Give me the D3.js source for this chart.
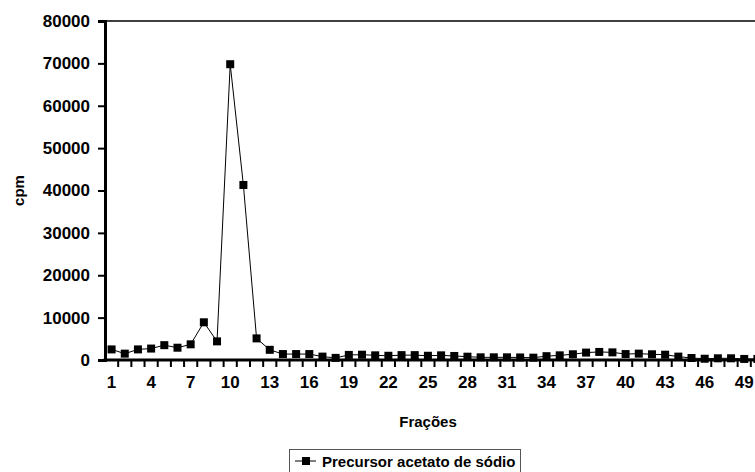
<!DOCTYPE html>
<html>
<head>
<meta charset="utf-8">
<script src="https://cdn.jsdelivr.net/npm/d3@7"></script>
<style>
  body { margin: 0; background: #fff; }
  svg { display: block; font-family: "Liberation Sans", Arial, sans-serif; font-weight: bold; }
</style>
</head>
<body>
<div id="chart"></div>
<script>
// Fractions (x categories) and measured cpm
const fractions = [1, 2, 3, 4, 5, 6, 7, 8, 9, 10, 11, 12, 13, 14, 15, 16, 17, 18, 19, 20,
  21, 22, 23, 24, 25, 26, 27, 28, 29, 30, 31, 32, 33, 34, 35, 36, 37, 38, 39, 40,
  41, 42, 43, 44, 45, 46, 47, 48, 49, 50];
const cpm = [2500, 1500, 2500, 2700, 3500, 2900, 3700, 8900, 4400, 69800,
  41300, 5100, 2400, 1400, 1400, 1400, 800, 500, 1200, 1250,
  1100, 1000, 1150, 1150, 1000, 1100, 950, 780, 630, 630,
  630, 600, 550, 900, 1100, 1350, 1750, 1900, 1800, 1400,
  1500, 1350, 1250, 800, 470, 300, 400, 400, 250, 250];
const yTicks = [0, 10000, 20000, 30000, 40000, 50000, 60000, 70000, 80000];
const xLabels = [1, 4, 7, 10, 13, 16, 19, 22, 25, 28, 31, 34, 37, 40, 43, 46, 49];
const seriesName = 'Precursor acetato de sódio';

function createChart() {
  const W = 755, H = 472;
  const left = 105, top = 21, bottom = 360;
  const step = 13.18;

  const svg = d3.select('#chart').append('svg')
    .attr('width', W)
    .attr('height', H);

  // Scales - the category axis runs past the right edge like the original
  const x = d3.scaleBand()
    .domain(fractions)
    .range([left, left + step * fractions.length])
    .padding(0);

  const y = d3.scaleLinear()
    .domain([0, 80000])
    .range([bottom, top]);

  const cx = d => x(d) + x.bandwidth() / 2;

  // Plot area top border
  svg.append('line')
    .attr('x1', left).attr('x2', W)
    .attr('y1', y(80000)).attr('y2', y(80000))
    .attr('stroke', '#000')
    .attr('stroke-width', 1.5);

  // Y axis
  const yAxis = svg.append('g')
    .attr('transform', `translate(${left},0)`)
    .call(d3.axisLeft(y).tickValues(yTicks).tickSize(7).tickPadding(8).tickFormat(d3.format('d')));
  yAxis.select('.domain').attr('stroke-width', 3);
  yAxis.selectAll('.tick line').attr('stroke-width', 2);
  yAxis.selectAll('text')
    .style('font-size', '17px')
    .style('font-weight', 'bold')
    .style('font-family', '"Liberation Sans", Arial, sans-serif')
    .attr('fill', '#000');

  // X axis - tick marks sit between categories
  const xAxis = svg.append('g')
    .attr('transform', `translate(0,${bottom})`)
    .call(d3.axisBottom(x).tickValues(xLabels).tickSize(0).tickPadding(16));
  xAxis.select('.domain').remove();
  xAxis.selectAll('text')
    .style('font-size', '17px')
    .style('font-weight', 'bold')
    .style('font-family', '"Liberation Sans", Arial, sans-serif')
    .attr('fill', '#000');

  svg.append('g')
    .selectAll('line')
    .data(fractions)
    .enter().append('line')
    .attr('x1', d => x(d) + x.bandwidth())
    .attr('x2', d => x(d) + x.bandwidth())
    .attr('y1', bottom)
    .attr('y2', bottom + 7)
    .attr('stroke', '#000')
    .attr('stroke-width', 2);

  svg.append('line')
    .attr('x1', left - 1.5).attr('x2', W)
    .attr('y1', bottom).attr('y2', bottom)
    .attr('stroke', '#000')
    .attr('stroke-width', 3);

  // Axis titles
  svg.append('text')
    .attr('transform', `translate(24,${(top + bottom) / 2}) rotate(-90)`)
    .attr('text-anchor', 'middle')
    .style('font-size', '15px')
    .text('cpm');

  svg.append('text')
    .attr('x', 428)
    .attr('y', 427)
    .attr('text-anchor', 'middle')
    .style('font-size', '15px')
    .text('Frações');

  // Series line and markers
  const line = d3.line()
    .x((d, i) => cx(fractions[i]))
    .y(d => y(d));

  svg.append('path')
    .datum(cpm)
    .attr('d', line)
    .attr('fill', 'none')
    .attr('stroke', '#000')
    .attr('stroke-width', 1);

  svg.append('g')
    .selectAll('rect')
    .data(cpm)
    .enter().append('rect')
    .attr('x', (d, i) => cx(fractions[i]) - 4)
    .attr('y', d => y(d) - 4)
    .attr('width', 8)
    .attr('height', 8)
    .attr('fill', '#000');

  // Legend
  const legend = svg.append('g')
    .attr('transform', 'translate(289,449)');

  legend.append('rect')
    .attr('x', 0.5).attr('y', 0.5)
    .attr('width', 231).attr('height', 40)
    .attr('fill', '#fff')
    .attr('stroke', '#555')
    .attr('stroke-width', 1);

  legend.append('line')
    .attr('x1', 6).attr('x2', 27)
    .attr('y1', 12).attr('y2', 12)
    .attr('stroke', '#000');

  legend.append('rect')
    .attr('x', 13).attr('y', 8)
    .attr('width', 8).attr('height', 8)
    .attr('fill', '#000');

  legend.append('text')
    .attr('x', 33)
    .attr('y', 18)
    .style('font-size', '15px')
    .text(seriesName);
}

createChart();
</script>
</body>
</html>
